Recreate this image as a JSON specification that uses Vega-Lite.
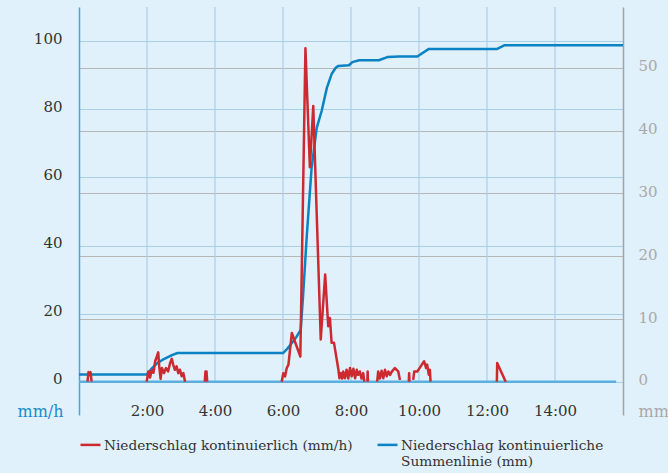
{
  "$schema": "https://vega.github.io/schema/vega-lite/v6.json",
  "width": 544,
  "height": 408,
  "autosize": {"type": "none"},
  "padding": {"left": 79, "top": 7, "right": 45, "bottom": 58},
  "background": "#e0f1fb",
  "config": {"view": {"stroke": null}, "font": "DejaVu Serif"},
  "datasets": {
    "rain": [
      {"t": 0.25, "v": 0, "seg": 1}, {"t": 0.28, "v": 2.8, "seg": 1}, {"t": 0.31, "v": 2.0, "seg": 1}, {"t": 0.34, "v": 2.8, "seg": 1}, {"t": 0.37, "v": 0, "seg": 1},
      {"t": 1.99, "v": 0, "seg": 2}, {"t": 2.04, "v": 3.0, "seg": 2}, {"t": 2.09, "v": 1.2, "seg": 2}, {"t": 2.14, "v": 3.5, "seg": 2}, {"t": 2.19, "v": 2.6, "seg": 2}, {"t": 2.24, "v": 6, "seg": 2}, {"t": 2.29, "v": 7.4, "seg": 2}, {"t": 2.33, "v": 8.6, "seg": 2}, {"t": 2.36, "v": 4.5, "seg": 2}, {"t": 2.40, "v": 0.8, "seg": 2}, {"t": 2.44, "v": 4, "seg": 2}, {"t": 2.50, "v": 2.5, "seg": 2}, {"t": 2.56, "v": 4, "seg": 2}, {"t": 2.62, "v": 3, "seg": 2}, {"t": 2.68, "v": 5.5, "seg": 2}, {"t": 2.73, "v": 6.7, "seg": 2}, {"t": 2.77, "v": 5, "seg": 2}, {"t": 2.82, "v": 3.5, "seg": 2}, {"t": 2.87, "v": 4.5, "seg": 2}, {"t": 2.92, "v": 2.5, "seg": 2}, {"t": 2.97, "v": 3.5, "seg": 2}, {"t": 3.02, "v": 1.6, "seg": 2}, {"t": 3.07, "v": 2.5, "seg": 2}, {"t": 3.12, "v": 0, "seg": 2},
      {"t": 3.70, "v": 0, "seg": 3}, {"t": 3.72, "v": 3, "seg": 3}, {"t": 3.75, "v": 3, "seg": 3}, {"t": 3.77, "v": 0, "seg": 3},
      {"t": 5.96, "v": 0, "seg": 4}, {"t": 6.01, "v": 2.5, "seg": 4}, {"t": 6.06, "v": 1.5, "seg": 4}, {"t": 6.11, "v": 4, "seg": 4}, {"t": 6.16, "v": 5, "seg": 4}, {"t": 6.26, "v": 14.3, "seg": 4}, {"t": 6.51, "v": 7.4, "seg": 4}, {"t": 6.66, "v": 98, "seg": 4}, {"t": 6.79, "v": 63, "seg": 4}, {"t": 6.89, "v": 81, "seg": 4}, {"t": 7.11, "v": 12.4, "seg": 4}, {"t": 7.24, "v": 31.5, "seg": 4}, {"t": 7.33, "v": 16.3, "seg": 4}, {"t": 7.38, "v": 18.7, "seg": 4}, {"t": 7.43, "v": 11.4, "seg": 4}, {"t": 7.50, "v": 11.4, "seg": 4}, {"t": 7.63, "v": 3.5, "seg": 4}, {"t": 7.66, "v": 1, "seg": 4}, {"t": 7.70, "v": 2.5, "seg": 4}, {"t": 7.74, "v": 0.9, "seg": 4}, {"t": 7.77, "v": 3, "seg": 4}, {"t": 7.82, "v": 1, "seg": 4}, {"t": 7.87, "v": 3.5, "seg": 4}, {"t": 7.92, "v": 0.9, "seg": 4}, {"t": 7.97, "v": 4, "seg": 4}, {"t": 8.02, "v": 1.6, "seg": 4}, {"t": 8.07, "v": 3.8, "seg": 4}, {"t": 8.12, "v": 1, "seg": 4}, {"t": 8.17, "v": 3.5, "seg": 4}, {"t": 8.21, "v": 2, "seg": 4}, {"t": 8.26, "v": 3, "seg": 4}, {"t": 8.31, "v": 0.9, "seg": 4}, {"t": 8.36, "v": 2.5, "seg": 4}, {"t": 8.39, "v": 0, "seg": 4},
      {"t": 8.48, "v": 0, "seg": 5}, {"t": 8.49, "v": 3, "seg": 5}, {"t": 8.50, "v": 0, "seg": 5},
      {"t": 8.77, "v": 0, "seg": 6}, {"t": 8.80, "v": 3, "seg": 6}, {"t": 8.85, "v": 0.9, "seg": 6}, {"t": 8.90, "v": 3.2, "seg": 6}, {"t": 8.95, "v": 1, "seg": 6}, {"t": 9.00, "v": 3.5, "seg": 6}, {"t": 9.05, "v": 1.6, "seg": 6}, {"t": 9.10, "v": 3, "seg": 6}, {"t": 9.15, "v": 2, "seg": 6}, {"t": 9.19, "v": 2.8, "seg": 6}, {"t": 9.29, "v": 4, "seg": 6}, {"t": 9.39, "v": 3, "seg": 6}, {"t": 9.44, "v": 0.5, "seg": 6},
      {"t": 9.70, "v": 0, "seg": 7}, {"t": 9.71, "v": 2.5, "seg": 7}, {"t": 9.72, "v": 0, "seg": 7},
      {"t": 9.83, "v": 0.5, "seg": 8}, {"t": 9.86, "v": 3, "seg": 8}, {"t": 9.95, "v": 3, "seg": 8}, {"t": 10.05, "v": 4.5, "seg": 8}, {"t": 10.15, "v": 6, "seg": 8}, {"t": 10.21, "v": 4, "seg": 8}, {"t": 10.24, "v": 5, "seg": 8}, {"t": 10.29, "v": 2, "seg": 8}, {"t": 10.32, "v": 3.5, "seg": 8}, {"t": 10.34, "v": 0, "seg": 8},
      {"t": 12.29, "v": 0, "seg": 9}, {"t": 12.30, "v": 5.5, "seg": 9}, {"t": 12.55, "v": 0, "seg": 9}
    ],
    "sum": [
      {"t": 0, "cum": 1.2}, {"t": 2.0, "cum": 1.2}, {"t": 2.15, "cum": 2.2}, {"t": 2.3, "cum": 3.0}, {"t": 2.45, "cum": 3.5}, {"t": 2.6, "cum": 3.9}, {"t": 2.75, "cum": 4.3}, {"t": 2.9, "cum": 4.6}, {"t": 3.0, "cum": 4.6},
      {"t": 6.0, "cum": 4.6}, {"t": 6.13, "cum": 5.3}, {"t": 6.26, "cum": 6.2}, {"t": 6.4, "cum": 7.2}, {"t": 6.52, "cum": 8.3}, {"t": 6.59, "cum": 13.7}, {"t": 6.70, "cum": 23.3}, {"t": 6.84, "cum": 34}, {"t": 6.99, "cum": 40.4}, {"t": 7.14, "cum": 43.2}, {"t": 7.29, "cum": 46.8}, {"t": 7.43, "cum": 49}, {"t": 7.55, "cum": 50.0}, {"t": 7.63, "cum": 50.3}, {"t": 7.94, "cum": 50.4}, {"t": 8.04, "cum": 50.9}, {"t": 8.24, "cum": 51.2}, {"t": 8.82, "cum": 51.2}, {"t": 9.07, "cum": 51.7}, {"t": 9.41, "cum": 51.8}, {"t": 9.95, "cum": 51.8}, {"t": 10.29, "cum": 53.0}, {"t": 12.3, "cum": 53.0}, {"t": 12.52, "cum": 53.6}, {"t": 16.0, "cum": 53.6}
    ]
  },
  "layer": [
    {
      "layer": [
        {
          "data": {"values": [{"t": 2}, {"t": 4}, {"t": 6}, {"t": 8}, {"t": 10}, {"t": 12}, {"t": 14}]},
          "mark": {"type": "rule", "color": "#a8cfea", "strokeWidth": 1.2},
          "encoding": {
            "x": {"field": "t", "type": "quantitative", "scale": {"domain": [0, 16], "nice": false, "zero": false}},
            "y": {"datum": 0, "type": "quantitative", "scale": {"domain": [-9.8, 110.1], "nice": false, "zero": false}, "axis": null},
            "y2": {"datum": 110.1}
          }
        },
        {
          "data": {"values": [{"z": 0}]},
          "mark": {"type": "rule", "color": "#5aafe0", "strokeWidth": 2.5},
          "encoding": {
            "x": {"datum": 0, "type": "quantitative"},
            "x2": {"datum": 15.8},
            "y": {"field": "z", "type": "quantitative"}
          }
        }
      ]
    },
    {
      "data": {"name": "sum"},
      "mark": {"type": "line", "strokeWidth": 2.5, "strokeJoin": "round"},
      "encoding": {
        "x": {"field": "t", "type": "quantitative", "scale": {"domain": [0, 16], "nice": false, "zero": false}},
        "y": {
          "field": "cum", "type": "quantitative",
          "scale": {"domain": [-5.26, 59.67], "nice": false, "zero": false},
          "axis": {
            "orient": "right", "values": [0, 10, 20, 30, 40, 50],
            "grid": true, "gridColor": "#b7b7b7", "gridWidth": 1.2,
            "domainColor": "#a3a3a3", "domainWidth": 1.5, "ticks": false,
            "labelPadding": 15, "labelAlign": "left", "labelBaseline": "alphabetic", "labelOffset": 3,
            "labelColor": "#a9a9a9", "labelFontSize": 15, "labelFont": "DejaVu Serif",
            "title": "mm", "titleAngle": 0, "titleAlign": "left", "titleBaseline": "alphabetic",
            "titleX": 15, "titleY": 409, "titleColor": "#a9a9a9", "titleFontSize": 16, "titleFontWeight": "normal", "titleFont": "DejaVu Serif"
          }
        },
        "color": {"datum": "Niederschlag kontinuierliche Summenlinie (mm)"}
      }
    },
    {
      "data": {"name": "rain"},
      "mark": {"type": "line", "strokeWidth": 2.5, "strokeJoin": "round"},
      "encoding": {
        "x": {
          "field": "t", "type": "quantitative", "title": null,
          "scale": {"domain": [0, 16], "nice": false, "zero": false},
          "axis": {
            "values": [2, 4, 6, 8, 10, 12, 14], "labelExpr": "datum.value + ':00'",
            "grid": false, "domain": false, "ticks": false, "tickSize": 0, "labelPadding": 0,
            "labelBaseline": "alphabetic", "labelColor": "#333333", "labelFontSize": 15, "labelFont": "DejaVu Serif", "title": null
          }
        },
        "y": {
          "field": "v", "type": "quantitative",
          "scale": {"domain": [-9.8, 110.1], "nice": false, "zero": false},
          "axis": {
            "orient": "left", "values": [0, 20, 40, 60, 80, 100],
            "grid": true, "gridColor": "#a8cfea", "gridWidth": 1.2,
            "domainColor": "#4aa3da", "domainWidth": 1.5, "ticks": false,
            "labelPadding": 17, "labelBaseline": "alphabetic", "labelOffset": 2,
            "labelColor": "#333333", "labelFontSize": 15, "labelFont": "DejaVu Serif",
            "title": "mm/h", "titleAngle": 0, "titleAlign": "right", "titleBaseline": "alphabetic",
            "titleX": -16, "titleY": 409, "titleColor": "#1c8bcd", "titleFontSize": 16, "titleFontWeight": "normal", "titleFont": "DejaVu Serif"
          }
        },
        "detail": {"field": "seg", "type": "nominal"},
        "color": {
          "datum": "Niederschlag kontinuierlich (mm/h)",
          "scale": {
            "domain": ["Niederschlag kontinuierlich (mm/h)", "Niederschlag kontinuierliche Summenlinie (mm)"],
            "range": ["#cc2a30", "#0a82c4"]
          },
          "legend": {
            "orient": "none", "legendX": 0, "legendY": 426, "direction": "horizontal", "columns": 2, "columnPadding": 19,
            "title": null, "padding": 0,
            "symbolType": "stroke", "symbolSize": 400, "symbolStrokeWidth": 2.5,
            "labelFont": "DejaVu Serif", "labelFontSize": 13.7, "labelColor": "#333333", "labelOffset": 2, "labelLimit": 400,
            "labelBaseline": "top",
            "labelExpr": "datum.label == 'Niederschlag kontinuierliche Summenlinie (mm)' ? ['Niederschlag kontinuierliche', 'Summenlinie (mm)'] : [datum.label, '']",
            "encode": {"labels": {"update": {"dy": {"value": -6}, "lineHeight": {"value": 16}}}}
          }
        }
      }
    }
  ],
  "resolve": {"scale": {"y": "independent"}}
}
